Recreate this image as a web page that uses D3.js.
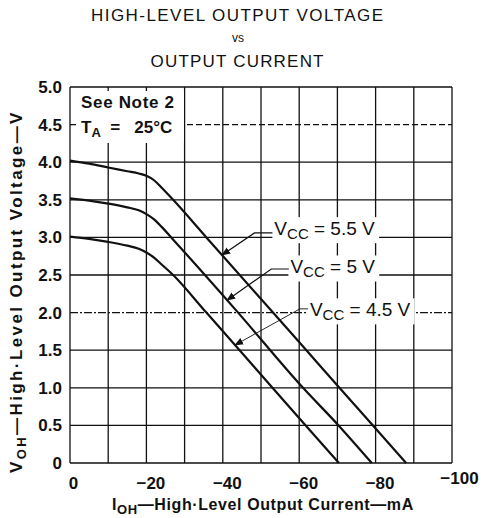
<!DOCTYPE html>
<html>
<head>
<meta charset="utf-8">
<script src="https://cdn.jsdelivr.net/npm/d3@7"></script>
<style>
  body { margin: 0; background: #fff; }
  svg { font-family: "Liberation Sans", Arial, sans-serif; }
  .tick text { font-weight: bold; font-size: 17px; fill: #111; }
</style>
</head>
<body>
<svg id="chart" width="486" height="518"></svg>
<script>
// values (I in mA, V in volts)
const seriesNames = ["VCC = 5.5 V", "VCC = 5 V", "VCC = 4.5 V"];
const current55 = [0, -5, -10, -15, -18, -20, -22, -24, -27, -35.7, -51.4, -60.5, -70.7, -80, -88];
const volt55    = [4.02, 3.98, 3.93, 3.88, 3.85, 3.82, 3.76, 3.66, 3.5, 3.0, 2.1, 1.58, 0.99, 0.46, 0];
const current50 = [0, -5, -10, -15, -18, -20, -22, -24, -26.5, -44, -61, -70.3, -79];
const volt50    = [3.52, 3.49, 3.45, 3.40, 3.36, 3.31, 3.24, 3.14, 3.0, 2.0, 1.0, 0.5, 0];
const current45 = [0, -5, -10, -15, -18, -20, -22, -24, -27, -35.7, -44.4, -53, -61.7, -70.4];
const volt45    = [3.01, 2.98, 2.94, 2.89, 2.85, 2.80, 2.73, 2.64, 2.5, 2.0, 1.5, 1.0, 0.5, 0];
const xTicks = [0, -20, -40, -60, -80, -100];
const yTicks = [0, 0.5, 1, 1.5, 2, 2.5, 3, 3.5, 4, 4.5, 5];
// where each label's arrow touches its curve (mA)
const arrowCurrent = [-39.8, -41.1, -43.2];

function toPoints(cur, volt)
{
    let pts = [];
    for (let i = 0; i < cur.length; i++) {
        pts.push({ i: cur[i], v: volt[i] });
    }
    return pts;
}

const curves = [
    toPoints(current55, volt55),
    toPoints(current50, volt50),
    toPoints(current45, volt45)
];

const svg = d3.select('#chart');
const plotLeft = 70, plotRight = 452, plotTop = 87, plotBottom = 463;

const xScale = d3.scaleLinear().domain([0, -100]).range([plotLeft, plotRight]);
const yScale = d3.scaleLinear().domain([0, 5]).range([plotBottom, plotTop]);

// title
const title = svg.append('g').attr('fill', '#111');
title.append('text').attr('x', 237).attr('y', 21).attr('text-anchor', 'middle')
    .attr('font-size', 17).attr('textLength', 292).text('HIGH-LEVEL OUTPUT VOLTAGE');
title.append('text').attr('x', 238).attr('y', 42).attr('text-anchor', 'middle')
    .attr('font-size', 12).text('vs');
title.append('text').attr('x', 237).attr('y', 67).attr('text-anchor', 'middle')
    .attr('font-size', 17).attr('textLength', 173).text('OUTPUT CURRENT');

// grid
const grid = svg.append('g').attr('stroke', '#111').attr('stroke-width', 1.3);
grid.selectAll('.vg')
    .data(d3.range(0, -101, -10))
    .enter().append('line')
    .attr('x1', d => xScale(d)).attr('x2', d => xScale(d))
    .attr('y1', plotTop).attr('y2', plotBottom);
grid.selectAll('.hg')
    .data(yTicks)
    .enter().append('line')
    .attr('x1', plotLeft).attr('x2', plotRight)
    .attr('y1', d => yScale(d)).attr('y2', d => yScale(d))
    .attr('stroke-dasharray', d => d == 4.5 ? '6,3' : (d == 2 ? '8,2,2,2' : null));

// axes
const xAxis = svg.append('g')
    .attr('transform', `translate(0, ${plotBottom})`)
    .call(d3.axisBottom(xScale)
        .tickValues(xTicks)
        .tickSize(0)
        .tickPadding(12)
        .tickFormat(d => d == 0 ? '0' : '\u2212' + Math.abs(d)));
xAxis.select('.domain').remove();
xAxis.selectAll('.tick text')
    .attr('dx', d => d == 0 ? 3 : (d == -100 ? 7 : 4))
    .attr('dy', d => d == -100 ? '0.5em' : '0.8em');

const yAxis = svg.append('g')
    .attr('transform', `translate(${plotLeft}, 0)`)
    .call(d3.axisLeft(yScale)
        .tickValues(yTicks)
        .tickSize(0)
        .tickPadding(8)
        .tickFormat(d => d == 0 ? '0' : d3.format('.1f')(d)));
yAxis.select('.domain').remove();

// note box
const note = svg.append('g');
note.append('rect').attr('x', 76).attr('y', 91).attr('width', 108).attr('height', 52).attr('fill', '#fff');
note.append('text').attr('x', 81).attr('y', 108).attr('font-size', 17).attr('font-weight', 'bold')
    .attr('fill', '#111').attr('textLength', 93).text('See Note 2');
const ta = note.append('text').attr('x', 81).attr('y', 133).attr('font-size', 17)
    .attr('font-weight', 'bold').attr('fill', '#111');
ta.append('tspan').text('T');
ta.append('tspan').attr('font-size', 13).attr('dy', 4).text('A');
ta.append('tspan').attr('dy', -4).text('\u00a0\u00a0=\u00a0\u00a0\u00a025\u00b0C');

// curves
const line = d3.line()
    .x(d => xScale(d.i))
    .y(d => yScale(d.v))
    .curve(d3.curveMonotoneX);

svg.append('g').selectAll('path')
    .data(curves)
    .enter().append('path')
    .attr('d', line)
    .attr('fill', 'none')
    .attr('stroke', '#111')
    .attr('stroke-width', 2.2);

// labels with leader arrows
svg.append('defs').append('marker')
    .attr('id', 'tip')
    .attr('viewBox', '0 0 10 10')
    .attr('refX', 9).attr('refY', 5)
    .attr('markerWidth', 9).attr('markerHeight', 9)
    .attr('markerUnits', 'userSpaceOnUse')
    .attr('orient', 'auto')
    .append('path').attr('d', 'M0,1 L10,5 L0,9 Z').attr('fill', '#111');

const labelSpots = [
    { elbow: [-48.3, 3.06], end: [-53.0, 3.06], text: [-53.5, 3.03] },
    { elbow: [-52.7, 2.58], end: [-57.3, 2.58], text: [-57.7, 2.52] },
    { elbow: [-60.2, 2.05], end: [-62.3, 2.05], text: [-62.8, 1.95] }
];

function curveValue(pts, cur)
{
    for (let k = 0; k < pts.length - 1; k++) {
        let a = pts[k], b = pts[k + 1];
        if (cur <= a.i && cur >= b.i) {
            return a.v + (b.v - a.v) * (cur - a.i) / (b.i - a.i);
        }
    }
    return 0;
}

const notes = svg.append('g');
labelSpots.forEach((s, n) => {
    let tipV = curveValue(curves[n], arrowCurrent[n]);
    let bg = notes.append('rect').attr('fill', '#fff');
    let parts = seriesNames[n].split('CC');
    let t = notes.append('text')
        .attr('x', xScale(s.text[0]))
        .attr('y', yScale(s.text[1]))
        .attr('font-size', 19)
        .attr('fill', '#111');
    t.append('tspan').text(parts[0]);
    t.append('tspan').attr('font-size', 15).attr('dy', 4).text('CC');
    t.append('tspan').attr('dy', -4).text(parts[1]);
    let box = t.node().getBBox();
    bg.attr('x', box.x - 2).attr('y', box.y - 1)
        .attr('width', box.width + 6).attr('height', box.height + 2);
    notes.append('path')
        .attr('d', `M${xScale(s.end[0])},${yScale(s.end[1])} L${xScale(s.elbow[0])},${yScale(s.elbow[1])} L${xScale(arrowCurrent[n])},${yScale(tipV)}`)
        .attr('fill', 'none')
        .attr('stroke', '#111')
        .attr('stroke-width', n == 2 ? 0.9 : 1.2)
        .attr('marker-end', 'url(#tip)');
});

// axis titles
const xt = svg.append('text').attr('x', 112).attr('y', 510)
    .attr('font-size', 16).attr('font-weight', 'bold').attr('fill', '#111')
    .attr('letter-spacing', 0.6);
xt.append('tspan').text('I');
xt.append('tspan').attr('font-size', 13).attr('dy', 4).text('OH');
xt.append('tspan').attr('dy', -4).text('\u2014High\u00b7Level Output Current\u2014mA');

const yt = svg.append('text')
    .attr('transform', 'rotate(-90)')
    .attr('x', -473).attr('y', 22)
    .attr('font-size', 17).attr('font-weight', 'bold').attr('fill', '#111')
    .attr('letter-spacing', 2.4);
yt.append('tspan').text('V');
yt.append('tspan').attr('font-size', 13).attr('dy', 4).text('OH');
yt.append('tspan').attr('dy', -4).text('\u2014High\u00b7Level Output Voltage\u2014V');
</script>
</body>
</html>
